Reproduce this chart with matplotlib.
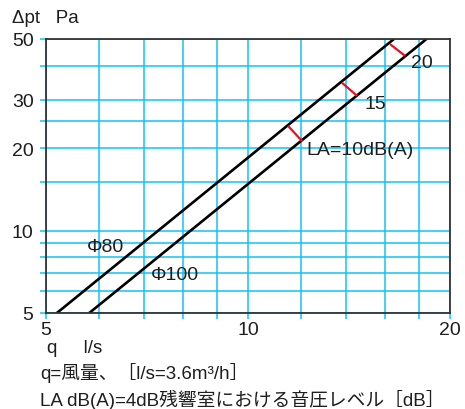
import matplotlib
matplotlib.use('Agg')
import matplotlib.pyplot as plt
from matplotlib.ticker import FixedLocator, FixedFormatter

plt.rcParams['font.family'] = ['Liberation Sans', 'Noto Sans CJK JP', 'DejaVu Sans']

# data (q in l/s, pressure drop in Pa)
phi80_q = [5.19, 16.5]
phi80_dp = [5.0, 50.0]
phi100_q = [5.80, 18.45]
phi100_dp = [5.0, 50.0]

# noise level markers between the two lines
la_labels = ['LA=10dB(A)', '15', '20']
la_upper_q = [11.47, 13.81, 16.28]
la_upper_dp = [24.1, 34.6, 47.9]
la_lower_q = [12.04, 14.54, 17.14]
la_lower_dp = [21.2, 31.0, 43.4]

x_ticks = [5, 6, 7, 8, 9, 10, 12, 14, 16, 18, 20]
x_labels = ['5', '', '', '', '', '10', '', '', '', '', '20']
y_ticks = [5, 6, 7, 8, 9, 10, 15, 20, 25, 30, 40, 50]
y_labels = ['5', '', '', '', '', '10', '', '20', '', '30', '', '50']

grid_col = '#14c1f2'
txt_col = '#1e1e1e'
W, H = 465, 410

fig = plt.figure(figsize=(W / 100, H / 100), dpi=100)
ax = fig.add_axes([46 / W, 1 - 314 / H, 404 / W, 274 / H])
ax.set_xscale('log')
ax.set_yscale('log')
ax.set_xlim(5, 20)
ax.set_ylim(5, 50)

ax.xaxis.set_major_locator(FixedLocator(x_ticks))
ax.xaxis.set_major_formatter(FixedFormatter(x_labels))
ax.xaxis.set_minor_locator(FixedLocator([]))
ax.yaxis.set_major_locator(FixedLocator(y_ticks))
ax.yaxis.set_major_formatter(FixedFormatter(y_labels))
ax.yaxis.set_minor_locator(FixedLocator([]))

ax.grid(True, color=grid_col, lw=1.1)
ax.set_axisbelow(True)
ax.tick_params(axis='both', color=grid_col, length=4, width=1.1,
               labelsize=14, labelcolor=txt_col)
ax.tick_params(axis='x', pad=2)
ax.tick_params(axis='y', pad=5)
for s in ax.spines.values():
    s.set_color('#333333')
    s.set_linewidth(1.3)

ax.plot(phi80_q, phi80_dp, color='black', lw=1.9, solid_capstyle='butt')
ax.plot(phi100_q, phi100_dp, color='black', lw=1.9, solid_capstyle='butt')

for i in range(len(la_labels)):
    ax.plot([la_upper_q[i], la_lower_q[i]], [la_upper_dp[i], la_lower_dp[i]],
            color='#e8101e', lw=1.6, solid_capstyle='butt')

fs = 14
ax.text(12.2, 19.8, la_labels[0], fontsize=fs, color=txt_col, ha='left', va='center')
ax.text(14.89, 29.2, la_labels[1], fontsize=fs, color=txt_col, ha='left', va='center')
ax.text(17.5, 40.9, la_labels[2], fontsize=fs, color=txt_col, ha='left', va='center')
ax.text(5.76, 8.71, 'Φ80', fontsize=fs, color=txt_col, ha='left', va='center')
ax.text(7.17, 6.89, 'Φ100', fontsize=fs, color=txt_col, ha='left', va='center')

fig.text(12 / W, 1 - 23 / H, 'Δpt   Pa', fontsize=13.5, color=txt_col, ha='left', va='baseline')
fig.text(47 / W, 1 - 353 / H, 'q     l/s', fontsize=13.5, color=txt_col, ha='left', va='baseline')
fig.text(40 / W, 1 - 379 / H, 'q=風量、［l/s=3.6m³/h］', fontsize=13.5,
         color=txt_col, ha='left', va='baseline')
fig.text(40 / W, 1 - 406 / H, 'LA dB(A)=4dB残響室における音圧レベル［dB］', fontsize=13.5,
         color=txt_col, ha='left', va='baseline')

fig.savefig('out.png', dpi=100)
